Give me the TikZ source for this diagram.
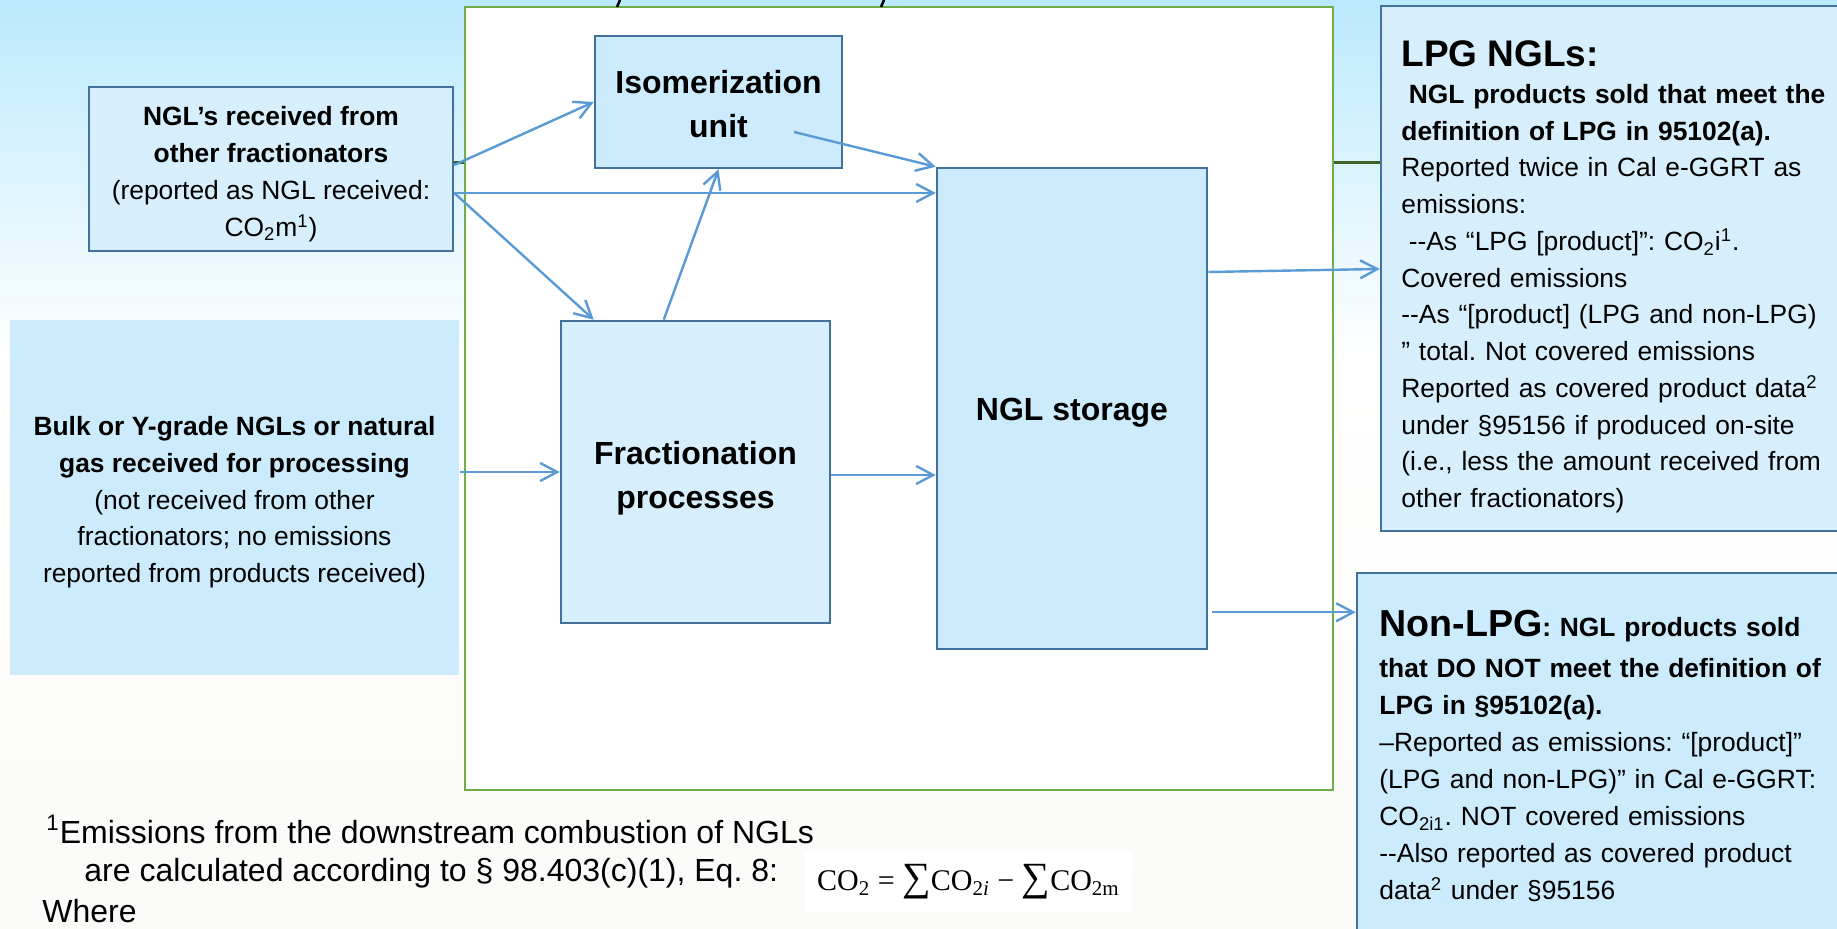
\documentclass[tikz,border=0pt]{standalone}
\usepackage{fontspec}
\setmainfont{Liberation Sans}
\newfontfamily\formulafont{Liberation Serif}
\usetikzlibrary{arrows.meta,calc}
\setlength\parindent{0pt}
\frenchspacing
\definecolor{boxblue}{HTML}{41719C}
\definecolor{fillA}{HTML}{D7EFFC}
\definecolor{fillB}{HTML}{CCEBFD}
\definecolor{arrblue}{HTML}{5B9BD5}
\definecolor{grn}{HTML}{70AD47}
\definecolor{dgrn}{HTML}{3B6321}
\definecolor{bgtop}{HTML}{BBE9FD}
\definecolor{bgbot}{HTML}{FAFBF8}
\pgfdeclarelayer{back}
\pgfdeclarelayer{mid}
\pgfsetlayers{back,mid,main}
\tikzset{
  flowbox/.style={draw=boxblue, line width=1.25pt, inner sep=0pt},
  arr/.style={draw=arrblue, line width=1.2pt, -{Straight Barb[length=8.5pt,width=9pt]}},
  midtext/.style={inner sep=0pt, align=center, font=\fontsize{13.2}{18.5}\selectfont},
  bigtext/.style={inner sep=0pt, align=center, font=\bfseries\fontsize{16}{22.2}\selectfont},
  sidetext/.style={anchor=base west, inner sep=0pt, text width=245pt, align=left},
  fntext/.style={anchor=base west, inner sep=0pt, font=\fontsize{16}{19}\selectfont},
}
\begin{document}
\begin{tikzpicture}[x=0.5pt,y=-0.5pt]
\useasboundingbox (0,0) rectangle (1837,929);
\begin{pgfonlayer}{back}
\shade[top color=bgtop, bottom color=white] (0,0) rectangle (1837,360);
\shade[top color=white, bottom color=bgbot] (0,360) rectangle (1837,929);
\end{pgfonlayer}

% plant boundary
\node[draw=grn, line width=1.25pt, fill=white, inner sep=0pt, minimum width=434pt, minimum height=391.5pt] (plant) at (899,398.5) {};
\draw[line width=1.3pt] (620,0) -- (617,7);
\draw[line width=1.3pt] (884,0) -- (881,7);

% input boxes
\node[flowbox, fill=fillA, minimum width=182pt, minimum height=82pt] (ngl) at (271,169) {};
\node[midtext] (ngltext) at ($(ngl.center)+(0,4.7)$)
  {\textbf{NGL’s received from}\\\textbf{other fractionators}\\(reported as NGL received:\\CO\textsubscript{2}m\textsuperscript{1})};
\node[flowbox, draw=none, fill=fillB, minimum width=224.5pt, minimum height=177.5pt] (bulk) at (234.5,497.5) {};
\node[midtext, font=\fontsize{13.2}{18.45}\selectfont] (bulktext) at ($(bulk.center)+(0,4.7)$)
  {\textbf{Bulk or Y-grade NGLs or natural}\\\textbf{gas received for processing}\\(not received from other\\fractionators; no emissions\\reported from products received)};

% process boxes
\node[flowbox, fill=fillB, minimum width=123.5pt, minimum height=66pt] (iso) at (718.5,102) {};
\node[bigtext] (isotext) at ($(iso.center)+(0,2)$) {Isomerization\\unit};
\node[flowbox, fill=fillA, minimum width=134.5pt, minimum height=151pt] (frac) at (695.5,472) {};
\node[bigtext] (fractext) at ($(frac.center)+(0,6.4)$) {Fractionation\\processes};
\node[flowbox, fill=fillB, minimum width=135pt, minimum height=240.5pt] (stor) at (1072,408.5) {};
\node[bigtext] (stortext) at ($(stor.center)+(0,4.7)$) {NGL storage};

% output boxes
\node[flowbox, fill=fillA, minimum width=234.5pt, minimum height=262.5pt] (lpg) at (1615.5,268.5) {};
\node[flowbox, fill=fillB, minimum width=246.5pt, minimum height=183.5pt] (nonlpg) at (1603.5,756.5) {};

\node[anchor=base west, inner sep=0pt, font=\bfseries\fontsize{18.5}{20}\selectfont] (lpgtitle) at (1401,67) {LPG NGLs:};
\node[sidetext, font=\fontsize{13.2}{18.37}\selectfont] (lpgtext) at (1401,103.5)
  {\textbf{\hspace*{0.28em}NGL products sold that meet the}\\
   \textbf{definition of LPG in 95102(a).}\\
   Reported twice in Cal e-GGRT as\\
   emissions:\\
   \hspace*{0.28em}-{}-As “LPG [product]”: CO\textsubscript{2}i\textsuperscript{1}.\\
   Covered emissions\\
   -{}-As “[product] (LPG and non-LPG)\\
   ” total. Not covered emissions\\
   Reported as covered product data\textsuperscript{2}\\
   under §95156 if produced on-site\\
   (i.e., less the amount received from\\
   other fractionators)};

\node[sidetext, font=\fontsize{13.2}{18.45}\selectfont] (nltext) at (1379,637)
  {{\fontsize{18.8}{20}\selectfont\bfseries Non-LPG}\textbf{: NGL products sold}\\[2.05pt]
   \textbf{that DO NOT meet the definition of}\\
   \textbf{LPG in §95102(a).}\\
   \textendash Reported as emissions: “[product]”\\
   (LPG and non-LPG)” in Cal e-GGRT:\\
   CO\textsubscript{2i1}. NOT covered emissions\\
   -{}-Also reported as covered product\\
   data\textsuperscript{2} under §95156};

% dark connector behind the plant boundary
\begin{pgfonlayer}{mid}
\draw[dgrn, line width=1.5pt] (ngl.east |- 0,163) -- (lpg.west |- 0,163);
\end{pgfonlayer}

% flow arrows
\coordinate (isoout) at ($(iso.center)+(75.5,30)$);
\coordinate (storout) at ($(stor.south east)+(4,-38)$);
\draw[arr] (ngl.east |- 0,165) -- (iso.west);
\draw[arr] (ngl.east |- 0,193) -- (stor.west |- 0,193);
\draw[arr] (ngl.east |- 0,193) -- ($(frac.north west)+(34,0)$);
\draw[arr] (isoout) -- (stor.north west);
\draw[arr] ($(frac.north west)+(104,0)$) -- (iso.south);
\draw[arr] (bulk.east |- frac.west) -- (frac.west);
\draw[arr] (frac.east |- 0,475) -- (stor.west |- 0,475);
\draw[arr] (stor.east |- 0,272) -- (lpg.west |- 0,269);
\draw[arr] (storout) -- (nonlpg.west |- storout);

% footnote
\node[fntext] (fn1) at (46,843) {\textsuperscript{1}Emissions from the downstream combustion of NGLs};
\node[fntext] (fn2) at (84,882) {are calculated according to § 98.403(c)(1), Eq. 8:};
\node[fntext] (fn3) at (42,922) {Where};
\node[fill=white, inner sep=0pt, minimum width=163.5pt, minimum height=30pt, font=\formulafont\fontsize{15}{16}\selectfont] (eq) at (968.5,882)
  {CO\textsubscript{2} = {\fontsize{20}{20}\selectfont ∑}CO\textsubscript{2\textit{i}} − {\fontsize{20}{20}\selectfont ∑}CO\textsubscript{2m}};
\end{tikzpicture}
\end{document}
